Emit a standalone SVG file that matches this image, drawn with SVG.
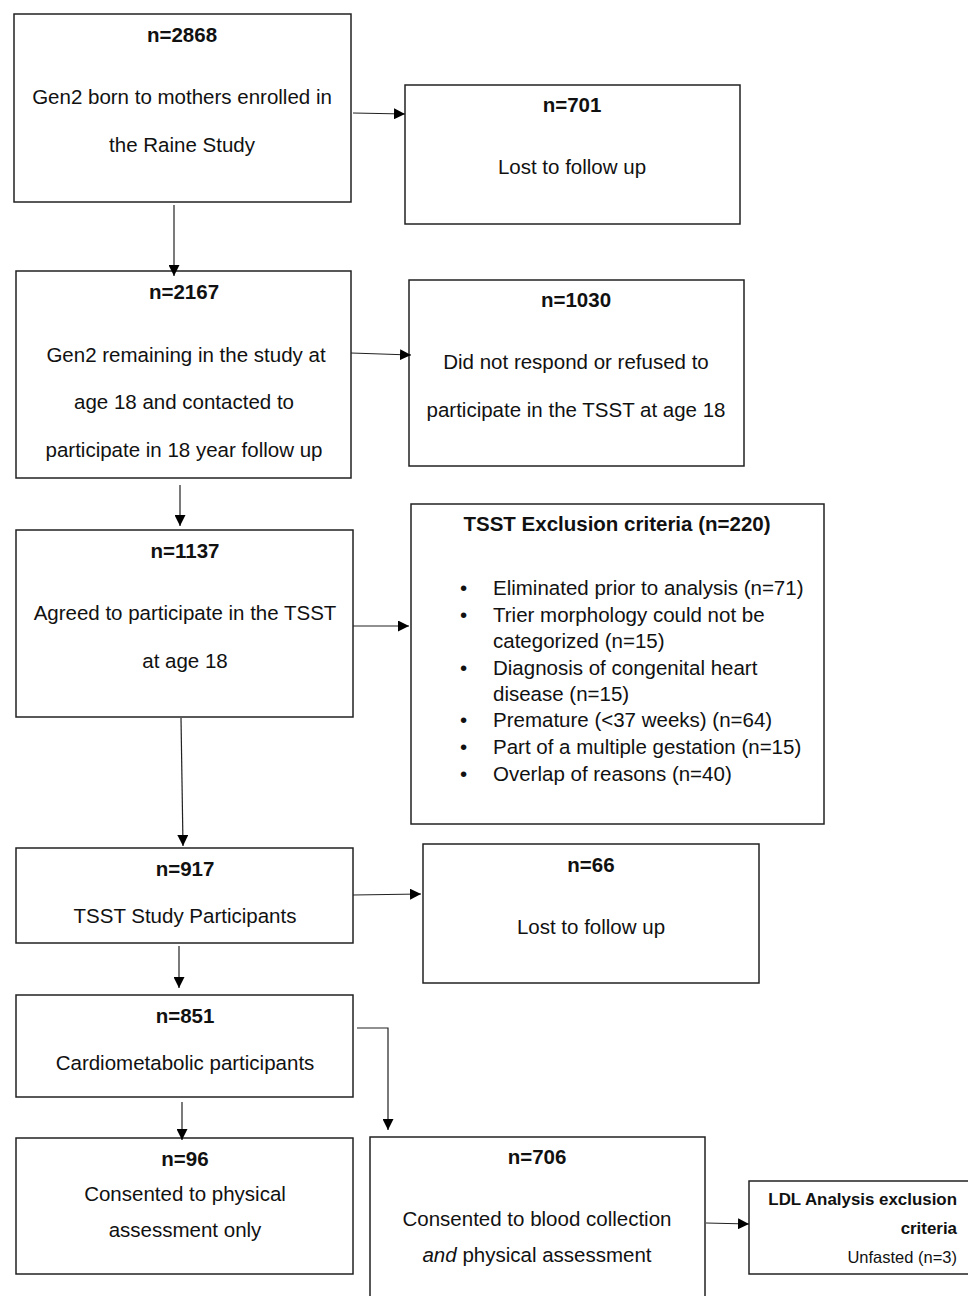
<svg xmlns="http://www.w3.org/2000/svg" width="968" height="1296" viewBox="0 0 968 1296">
<defs>
<marker id="ah" viewBox="0 0 10 10" refX="10" refY="5" markerWidth="11" markerHeight="11" markerUnits="userSpaceOnUse" orient="auto">
<path d="M0,0 L10,5 L0,10 z" fill="#000"/>
</marker>
<style>
.box{fill:#fff;stroke:#222;stroke-width:1.5}
text{font-family:"Liberation Sans",Arial,sans-serif;font-size:20.5px;fill:#111}
.c{text-anchor:middle}
.b{font-weight:bold}
.conn{fill:none;stroke:#222;stroke-width:1.2;marker-end:url(#ah)}
</style>
</defs>
<rect width="968" height="1296" fill="#fff"/>
<g id="n2868">
<rect class="box" x="14" y="14" width="337" height="188"/>
<text class="c b" x="182" y="42">n=2868</text>
<text class="c" x="182" y="104">Gen2 born to mothers enrolled in</text>
<text class="c" x="182" y="152">the Raine Study</text>
</g>
<g id="n701">
<rect class="box" x="405" y="85" width="335" height="139"/>
<text class="c b" x="572" y="112">n=701</text>
<text class="c" x="572" y="174">Lost to follow up</text>
</g>
<g id="n2167">
<rect class="box" x="16" y="271" width="335" height="207"/>
<text class="c b" x="184" y="299">n=2167</text>
<text class="c" x="186" y="362">Gen2 remaining in the study at</text>
<text class="c" x="184" y="409">age 18 and contacted to</text>
<text class="c" x="184" y="457">participate in 18 year follow up</text>
</g>
<g id="n1030">
<rect class="box" x="409" y="280" width="335" height="186"/>
<text class="c b" x="576" y="307">n=1030</text>
<text class="c" x="576" y="369">Did not respond or refused to</text>
<text class="c" x="576" y="417">participate in the TSST at age 18</text>
</g>
<g id="n1137">
<rect class="box" x="16" y="530" width="337" height="187"/>
<text class="c b" x="185" y="558">n=1137</text>
<text class="c" x="185" y="620">Agreed to participate in the TSST</text>
<text class="c" x="185" y="668">at age 18</text>
</g>
<g id="exclusion">
<rect class="box" x="411" y="504" width="413" height="320"/>
<text class="c b" x="617" y="531">TSST Exclusion criteria (n=220)</text>
<g>
<text x="460" y="595">•</text><text x="493" y="595">Eliminated prior to analysis (n=71)</text>
<text x="460" y="622">•</text><text x="493" y="622">Trier morphology could not be</text>
<text x="493" y="648">categorized (n=15)</text>
<text x="460" y="675">•</text><text x="493" y="675">Diagnosis of congenital heart</text>
<text x="493" y="701">disease (n=15)</text>
<text x="460" y="727">•</text><text x="493" y="727">Premature (&lt;37 weeks) (n=64)</text>
<text x="460" y="754">•</text><text x="493" y="754">Part of a multiple gestation (n=15)</text>
<text x="460" y="781">•</text><text x="493" y="781">Overlap of reasons (n=40)</text>
</g>
</g>
<g id="n917">
<rect class="box" x="16" y="848" width="337" height="95"/>
<text class="c b" x="185" y="876">n=917</text>
<text class="c" x="185" y="923">TSST Study Participants</text>
</g>
<g id="n66">
<rect class="box" x="423" y="844" width="336" height="139"/>
<text class="c b" x="591" y="872">n=66</text>
<text class="c" x="591" y="934">Lost to follow up</text>
</g>
<g id="n851">
<rect class="box" x="16" y="995" width="337" height="102"/>
<text class="c b" x="185" y="1023">n=851</text>
<text class="c" x="185" y="1070">Cardiometabolic participants</text>
</g>
<g id="n96">
<rect class="box" x="16" y="1138" width="337" height="136"/>
<text class="c b" x="185" y="1166">n=96</text>
<text class="c" x="185" y="1201">Consented to physical</text>
<text class="c" x="185" y="1237">assessment only</text>
</g>
<g id="n706">
<rect class="box" x="370" y="1137" width="335" height="170"/>
<text class="c b" x="537" y="1164">n=706</text>
<text class="c" x="537" y="1226">Consented to blood collection</text>
<text class="c" x="537" y="1262"><tspan font-style="italic">and</tspan> physical assessment</text>
</g>
<g id="ldl">
<rect class="box" x="749" y="1181" width="225" height="93"/>
<text class="b" x="957" y="1205" text-anchor="end" style="font-size:16.9px">LDL Analysis exclusion</text>
<text class="b" x="957" y="1234" text-anchor="end" style="font-size:16.9px">criteria</text>
<text x="957" y="1263" text-anchor="end" style="font-size:16.5px">Unfasted (n=3)</text>
</g>
<g id="connectors">
<path class="conn" d="M353,113 L405,114"/>
<path class="conn" d="M174,205 L174,276"/>
<path class="conn" d="M351,353 L411,355"/>
<path class="conn" d="M180,485 L180,526"/>
<path class="conn" d="M353,626 L409,626"/>
<path class="conn" d="M181,718 L183,846"/>
<path class="conn" d="M353,895 L421,894"/>
<path class="conn" d="M179,946 L179,988"/>
<path class="conn" d="M357,1028 L388,1028 L388,1130"/>
<path class="conn" d="M182,1102 L182,1140"/>
<path class="conn" d="M706,1223 L749,1224"/>
</g>
</svg>
